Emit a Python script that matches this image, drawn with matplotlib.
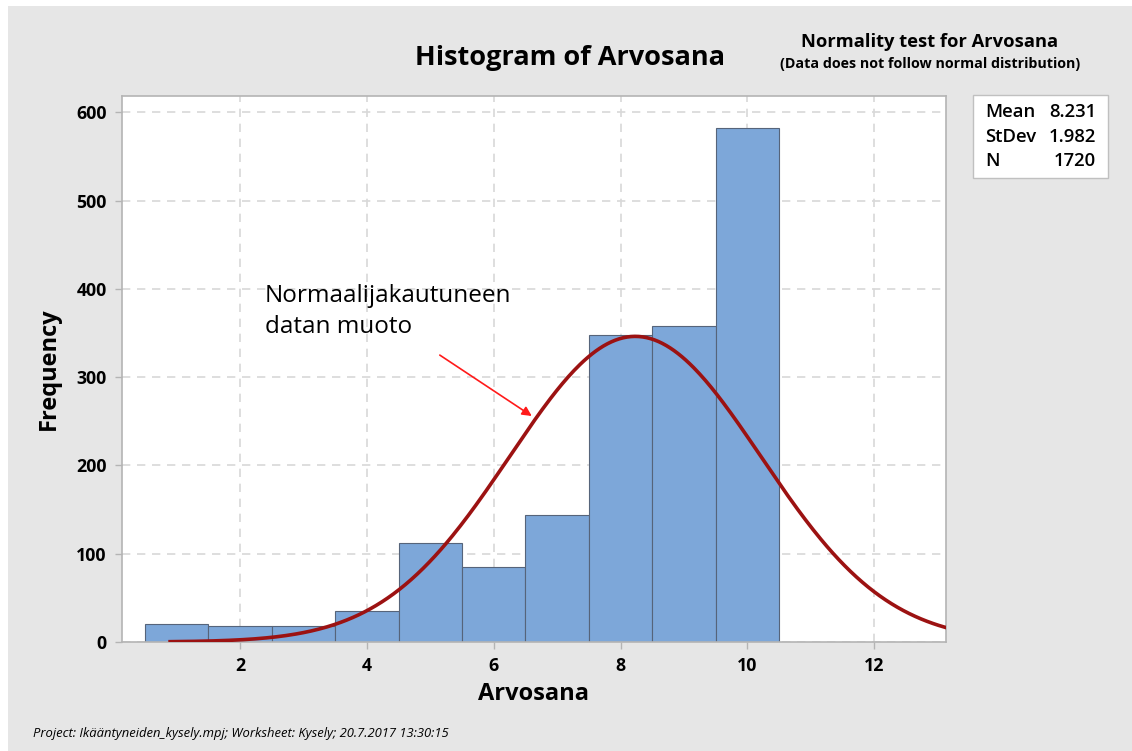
import numpy as np
import matplotlib
matplotlib.use("Agg")
import matplotlib.pyplot as plt
from matplotlib.patches import Rectangle

# ── Data ──────────────────────────────────────────────────────────────────────
BIN_CENTERS = [1, 2, 3, 4, 5, 6, 7, 8, 9, 10]
COUNTS = [20, 18, 18, 35, 112, 85, 144, 348, 358, 582]
MEAN = 8.231
STDEV = 1.982
N = 1720
X_TICKS = [2, 4, 6, 8, 10, 12]
Y_TICKS = [0, 100, 200, 300, 400, 500, 600]

FONT = ["Open Sans", "DejaVu Sans"]
BG = "#e6e6e6"
BAR_COLOR = "#7da7d9"
BAR_EDGE = "#56647a"
CURVE_COLOR = "#9c1212"
GRID_COLOR = "#d8d8d8"
SPINE_COLOR = "#b4b4b4"

plt.rcParams["font.family"] = FONT

fig = plt.figure(figsize=(11.32, 7.51), dpi=100, facecolor=BG)
# white rim at top/left (screenshot border)
fig.patches.append(Rectangle((0, 1 - 6 / 751), 1, 6 / 751, transform=fig.transFigure,
                             facecolor="white", edgecolor="none", zorder=-1))
fig.patches.append(Rectangle((0, 0), 8 / 1132, 1, transform=fig.transFigure,
                             facecolor="white", edgecolor="none", zorder=-1))

ax = fig.add_axes([122 / 1132, 1 - 642 / 751, (946 - 122) / 1132, (642 - 96) / 751])
ax.set_facecolor("white")

ax.bar(BIN_CENTERS, COUNTS, width=1.0, color=BAR_COLOR, edgecolor=BAR_EDGE,
       linewidth=0.8, zorder=2)

# fitted normal curve from the reported Mean / StDev / N (bin width 1)
xs = np.linspace(0.87, 13.2, 400)
ys = N * 1.0 / (STDEV * np.sqrt(2 * np.pi)) * np.exp(-0.5 * ((xs - MEAN) / STDEV) ** 2)
ax.plot(xs, ys, color=CURVE_COLOR, linewidth=2.6, zorder=3, solid_capstyle="butt")

ax.set_xlim(0.14, 13.13)
ax.set_ylim(0, 618.5)
ax.set_xticks(X_TICKS)
ax.set_yticks(Y_TICKS)
ax.tick_params(axis="both", length=5, width=1, color=SPINE_COLOR,
               labelsize=12.8, pad=6)
for lab in ax.get_xticklabels() + ax.get_yticklabels():
    lab.set_fontweight("bold")

ax.grid(True, color=GRID_COLOR, linestyle=(0, (5, 4)), linewidth=1.2, zorder=0)
ax.set_axisbelow(True)
for sp in ax.spines.values():
    sp.set_color(SPINE_COLOR)
    sp.set_linewidth(1.2)

ax.set_xlabel("Arvosana", fontsize=17, fontweight="bold", labelpad=5)
ax.set_ylabel("Frequency", fontsize=17, fontweight="bold", labelpad=11)

# annotation + arrow
ax.text(2.39, 405, "Normaalijakautuneen\ndatan muoto", fontsize=17.5,
        ha="left", va="top", linespacing=1.35, zorder=4)
ax.annotate("", xy=(6.6, 256), xytext=(5.15, 325),
            arrowprops=dict(arrowstyle="-|>", color="#ff1a1a", lw=1.2,
                            mutation_scale=14, shrinkA=0, shrinkB=0), zorder=4)

# titles
fig.text(570 / 1132, 1 - 58 / 751, "Histogram of Arvosana", fontsize=19.5,
         fontweight="bold", ha="center", va="center")
fig.text(930 / 1132, 1 - 42 / 751, "Normality test for Arvosana", fontsize=13.2,
         fontweight="bold", ha="center", va="center")
fig.text(930 / 1132, 1 - 64 / 751, "(Data does not follow normal distribution)",
         fontsize=10.3, fontweight="bold", ha="center", va="center")

# stats box
fig.patches.append(Rectangle((973 / 1132, 1 - 178 / 751), 135 / 1132, 83 / 751,
                             transform=fig.transFigure, facecolor="white",
                             edgecolor="#c0c0c0", linewidth=1))
stats = [("Mean", f"{MEAN:.3f}"), ("StDev", f"{STDEV:.3f}"), ("N", f"{N}")]
for i, (k, v) in enumerate(stats):
    yy = 1 - (112 + i * 24.5) / 751
    fig.text(985 / 1132, yy, k, fontsize=13.3, fontweight="semibold",
             ha="left", va="center")
    fig.text(1096 / 1132, yy, v, fontsize=13.3, fontweight="semibold",
             ha="right", va="center")

# footer
fig.text(33 / 1132, 1 - 734 / 751,
         "Project: Ikääntyneiden_kysely.mpj; Worksheet: Kysely; 20.7.2017 13:30:15",
         fontsize=9.4, style="italic", ha="left", va="center")

fig.savefig("out.png", dpi=100, facecolor=BG)
